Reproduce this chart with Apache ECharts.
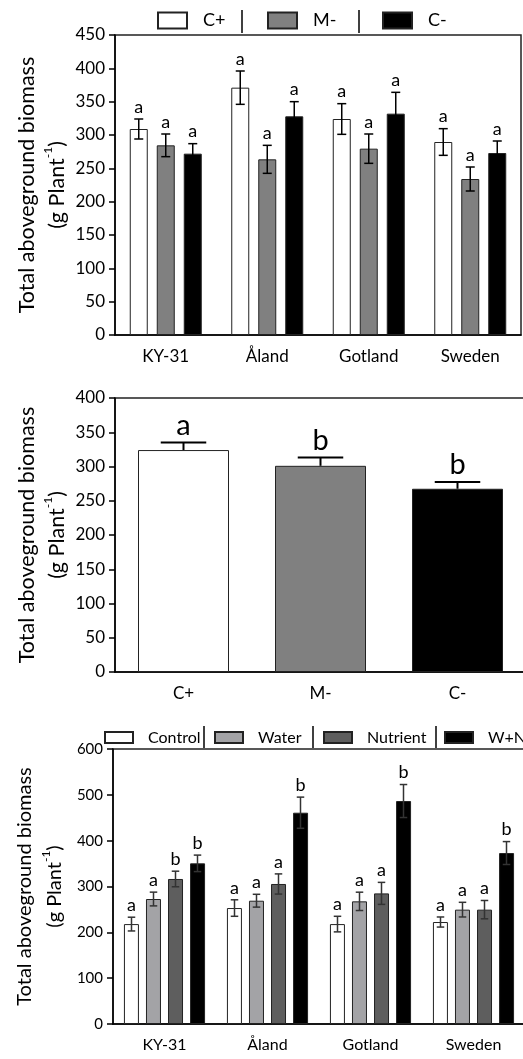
<!DOCTYPE html>
<html lang="en">
<head>
<meta charset="UTF-8">
<title>Total aboveground biomass</title>
<script src="https://cdn.jsdelivr.net/npm/echarts@6/dist/echarts.min.js"></script>
</head>
<body style="margin:0;background:#fff">
<div id="main" style="width:523px;height:1059px"></div>
<script type="text/javascript">
// ---- data ----
var sites = ['KY-31', 'Åland', 'Gotland', 'Sweden'];

// panel 1: endophyte status x site
var p1Names = ['C+', 'M-', 'C-'];
var p1Means = [
    [309, 371, 324, 289.5],
    [284.5, 263.5, 279.5, 234],
    [272, 328, 332, 273]
];
var p1Errs = [
    [15, 25, 23, 20],
    [17, 21, 22, 18],
    [15, 22, 32, 18]
];
var p1Letters = [
    ['a', 'a', 'a', 'a'],
    ['a', 'a', 'a', 'a'],
    ['a', 'a', 'a', 'a']
];

// panel 2: endophyte status pooled
var p2Cats = ['C+', 'M-', 'C-'];
var p2Means = [324, 301, 267.5];
var p2Errs = [11, 12, 10];
var p2Letters = ['a', 'b', 'b'];

// panel 3: treatment x site
var p3Names = ['Control', 'Water', 'Nutrient', 'W+N'];
var p3Means = [
    [218, 253, 218, 222.5],
    [272.7, 269, 267.6, 249.5],
    [316.4, 305.5, 285, 249.5],
    [350.5, 461, 486.5, 373]
];
var p3Errs = [
    [15, 18, 17, 11],
    [15, 14, 20, 16],
    [17, 22, 24, 20],
    [18, 34, 36, 25]
];
var p3Letters = [
    ['a', 'a', 'a', 'a'],
    ['a', 'a', 'a', 'a'],
    ['b', 'a', 'a', 'a'],
    ['b', 'b', 'b', 'b']
];

var p1Colors = ['#ffffff', '#808080', '#000000'];
var p2Colors = ['#ffffff', '#808080', '#000000'];
var p3Colors = ['#ffffff', '#a3a3a6', '#5e5e5e', '#000000'];

var FONT = 'Lato';

// error bar + significance letter, drawn over bar k of n in a group
function errSeries(ax, k, n, barW, step, means, errs, letters, cfg) {
    return {
        type: 'custom',
        xAxisIndex: ax,
        yAxisIndex: ax,
        z: 5,
        silent: true,
        data: means.map(function (m, i) { return [i, m, errs[i]]; }),
        encode: {x: 0, y: 1},
        renderItem: function (params, api) {
            var i = api.value(0), m = api.value(1), e = api.value(2);
            var base = api.coord([i, m]);
            var cx = base[0] + (k - (n - 1) / 2) * step;
            var yTop = api.coord([i, m + e])[1];
            var yBot = cfg.oneSided ? base[1] : api.coord([i, m - e])[1];
            var hw = barW / 4;
            var st = {stroke: cfg.color, lineWidth: cfg.lw};
            var ch = [
                {type: 'line', shape: {x1: cx, y1: yTop, x2: cx, y2: yBot}, style: st},
                {type: 'line', shape: {x1: cx - hw, y1: yTop, x2: cx + hw, y2: yTop}, style: st}
            ];
            if (!cfg.oneSided) {
                ch.push({type: 'line', shape: {x1: cx - hw, y1: yBot, x2: cx + hw, y2: yBot}, style: st});
            }
            ch.push({
                type: 'text',
                x: cx, y: yTop - cfg.dy,
                style: {
                    text: letters[params.dataIndex],
                    fill: '#000',
                    font: cfg.fs + 'px ' + FONT,
                    align: 'center',
                    verticalAlign: 'middle'
                }
            });
            return {type: 'group', children: ch};
        }
    };
}

function yName(fs) {
    return {
        name: '{t|Total aboveground biomass}\n{t|(g Plant}{s|-1}{t|)}',
        nameLocation: 'middle',
        nameRotate: 90,
        nameGap: 43,
        nameMoveOverlap: false,
        nameTextStyle: {
            rich: {
                t: {fontFamily: FONT, fontSize: fs, lineHeight: 30, color: '#000'},
                s: {fontFamily: FONT, fontSize: 12, lineHeight: 30, verticalAlign: 'top', color: '#000'}
            }
        }
    };
}

function yAxis(ax, max, step, fs) {
    return Object.assign({
        type: 'value', gridIndex: ax, min: 0, max: max, interval: step,
        splitLine: {show: false},
        axisLine: {show: true, lineStyle: {color: '#000', width: 1.5}},
        axisTick: {show: true, length: 6, lineStyle: {color: '#000', width: 1.5}},
        axisLabel: {fontFamily: FONT, fontSize: fs, color: '#000', margin: 10}
    }, yName(fs === 17 ? 21.5 : 20));
}

function xAxis(ax, cats, fs) {
    return {
        type: 'category', gridIndex: ax, data: cats,
        axisLine: {show: true, lineStyle: {color: '#000', width: 1.5}},
        axisTick: {show: false},
        axisLabel: {fontFamily: FONT, fontSize: fs, color: '#000', margin: 13}
    };
}

// one legend entry, placed at its own x
function legendItem(name, left, top, w, h, fs, gap, lh) {
    return {
        data: [name], left: left, top: top, padding: 0,
        itemWidth: w, itemHeight: h, icon: 'rect', selectedMode: false,
        formatter: function (n) { return '{g| }{t|' + n + '}'; },
        textStyle: {
            lineHeight: lh,
            rich: {
                g: {width: gap, lineHeight: lh},
                t: {fontFamily: FONT, fontSize: fs, color: '#000', lineHeight: lh}
            }
        }
    };
}

var gridBase = {show: true, borderColor: '#222', borderWidth: 1.5, backgroundColor: 'transparent', outerBoundsMode: 'none', containLabel: false};

var series = [];

// panel 1 bars
p1Names.forEach(function (nm, k) {
    series.push({
        name: nm, type: 'bar', xAxisIndex: 0, yAxisIndex: 0,
        data: p1Means[k], barWidth: 18, barGap: '50%',
        itemStyle: {color: p1Colors[k], borderColor: '#222', borderWidth: 1}
    });
});
p1Names.forEach(function (nm, k) {
    series.push(errSeries(0, k, 3, 18, 27, p1Means[k], p1Errs[k], p1Letters[k],
        {color: '#000', lw: 1.5, dy: 12, fs: 18}));
});

// panel 2 bars
series.push({
    name: 'pooled', type: 'bar', xAxisIndex: 1, yAxisIndex: 1, barWidth: 91,
    data: p2Means.map(function (v, i) {
        return {value: v, itemStyle: {color: p2Colors[i], borderColor: '#222', borderWidth: 1}};
    })
});
series.push(errSeries(1, 0, 1, 91, 0, p2Means, p2Errs, p2Letters,
    {color: '#000', lw: 2, dy: 17, fs: 29, oneSided: true}));

// panel 3 bars
p3Names.forEach(function (nm, k) {
    series.push({
        name: nm, type: 'bar', xAxisIndex: 2, yAxisIndex: 2,
        data: p3Means[k], barWidth: 15, barGap: '47%',
        itemStyle: {color: p3Colors[k], borderColor: '#222', borderWidth: 1}
    });
});
p3Names.forEach(function (nm, k) {
    series.push(errSeries(2, k, 4, 15, 22, p3Means[k], p3Errs[k], p3Letters[k],
        {color: '#333', lw: 1.5, dy: 12, fs: 18}));
});

var p1LegendX = [157, 267, 382];
var p3LegendX = [104, 214, 323, 444];
var legends = [];
p1Names.forEach(function (nm, k) {
    legends.push(legendItem(nm, p1LegendX[k], 10.5, 29, 16, 18, 11, 20));
});
p3Names.forEach(function (nm, k) {
    legends.push(legendItem(nm, p3LegendX[k], 728.5, 28, 11, 16, 10, 18));
});

var sep = {stroke: '#000', lineWidth: 1.5};

var option = {
    animation: false,
    backgroundColor: '#fff',
    grid: [
        Object.assign({left: 115, top: 35, width: 406, height: 300}, gridBase),
        Object.assign({left: 115, top: 398, width: 411, height: 274}, gridBase),
        Object.assign({left: 113, top: 749, width: 412, height: 275}, gridBase)
    ],
    xAxis: [xAxis(0, sites, 17), xAxis(1, p2Cats, 17), xAxis(2, sites, 16)],
    yAxis: [yAxis(0, 450, 50, 17), yAxis(1, 400, 50, 17), yAxis(2, 600, 100, 15)],
    legend: legends,
    graphic: [
        {type: 'line', shape: {x1: 242, y1: 10, x2: 242, y2: 33}, style: sep},
        {type: 'line', shape: {x1: 359, y1: 10, x2: 359, y2: 33}, style: sep},
        {type: 'line', shape: {x1: 204, y1: 726, x2: 204, y2: 748}, style: sep},
        {type: 'line', shape: {x1: 313, y1: 726, x2: 313, y2: 748}, style: sep},
        {type: 'line', shape: {x1: 436, y1: 726, x2: 436, y2: 748}, style: sep}
    ],
    series: series
};

var chart = echarts.init(document.getElementById('main'));
chart.setOption(option);
</script>
</body>
</html>
